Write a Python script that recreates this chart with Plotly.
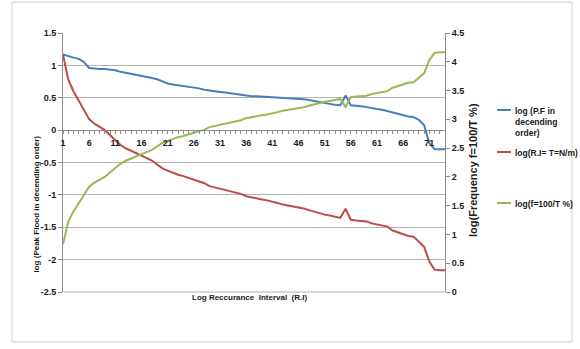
import plotly.graph_objects as go

# Recurrence interval rank (m) along the category axis
interval = list(range(1, 75))

# log of peak flood, sorted in descending order (left axis)
log_peak_flood = [
    1.17, 1.14, 1.12, 1.10, 1.05, 0.96, 0.95, 0.945, 0.945, 0.935,
    0.925, 0.90, 0.885, 0.875, 0.86, 0.84, 0.825, 0.805, 0.785, 0.755,
    0.72, 0.705, 0.695, 0.685, 0.67, 0.655, 0.645, 0.625, 0.61, 0.60,
    0.59, 0.58, 0.57, 0.56, 0.545, 0.53, 0.525, 0.525, 0.52, 0.52,
    0.515, 0.51, 0.50, 0.495, 0.49, 0.485, 0.475, 0.465, 0.45, 0.43,
    0.41, 0.40, 0.39, 0.385, 0.535, 0.385, 0.38, 0.37, 0.355, 0.335,
    0.325, 0.315, 0.295, 0.27, 0.25, 0.225, 0.21, 0.20, 0.16, 0.08,
    -0.20, -0.295, -0.295, -0.295,
]

# log of recurrence interval T = N/m (left axis)
log_recurrence = [
    1.17, 0.78, 0.60, 0.45, 0.30, 0.17, 0.10, 0.05, 0.00, -0.08,
    -0.16, -0.23, -0.28, -0.32, -0.36, -0.39, -0.43, -0.47, -0.53, -0.59,
    -0.625, -0.66, -0.69, -0.71, -0.735, -0.76, -0.785, -0.82, -0.865, -0.885,
    -0.905, -0.93, -0.955, -0.965, -0.985, -1.02, -1.04, -1.05, -1.07, -1.085,
    -1.10, -1.125, -1.15, -1.165, -1.175, -1.19, -1.21, -1.235, -1.26, -1.28,
    -1.305, -1.32, -1.335, -1.355, -1.215, -1.385, -1.395, -1.40, -1.41, -1.44,
    -1.455, -1.465, -1.49, -1.55, -1.58, -1.615, -1.635, -1.645, -1.72, -1.80,
    -2.03, -2.155, -2.165, -2.165,
]

# log of frequency f = 100/T % (right axis)
log_frequency = [
    0.83, 1.22, 1.40, 1.55, 1.70, 1.83, 1.90, 1.95, 2.00, 2.08,
    2.16, 2.23, 2.28, 2.32, 2.36, 2.39, 2.43, 2.47, 2.53, 2.59,
    2.625, 2.66, 2.69, 2.71, 2.735, 2.76, 2.785, 2.82, 2.865, 2.885,
    2.905, 2.93, 2.955, 2.965, 2.985, 3.02, 3.04, 3.05, 3.07, 3.085,
    3.10, 3.125, 3.15, 3.165, 3.175, 3.19, 3.21, 3.235, 3.26, 3.28,
    3.305, 3.32, 3.335, 3.355, 3.215, 3.385, 3.395, 3.40, 3.41, 3.44,
    3.455, 3.465, 3.49, 3.55, 3.58, 3.615, 3.635, 3.645, 3.72, 3.80,
    4.03, 4.155, 4.165, 4.165,
]

series_names = ["log (P.F in<br>decending<br>order)", "log(R.I= T=N/m)", "log(f=100/T %)"]
series_colors = ["#4a7ebb", "#be4b48", "#98b954"]

x_tick_vals = [1, 6, 11, 16, 21, 26, 31, 36, 41, 46, 51, 56, 61, 66, 71]
left_tick_vals = [1.5, 1, 0.5, 0, -0.5, -1, -1.5, -2, -2.5]
left_tick_text = ["1.5", "1", "0.5", "0", "-0.5", "-1", "-1.5", "-2", "-2.5"]
right_tick_vals = [4.5, 4, 3.5, 3, 2.5, 2, 1.5, 1, 0.5, 0]
right_tick_text = ["4.5", "4", "3.5", "3", "2.5", "2", "1.5", "1", "0.5", "0"]

W, H = 580, 349
L, R, T, B = 63, 445, 33, 292  # plot-area edges in pixels
FONT = "Liberation Sans Narrow, Liberation Sans, Arial, sans-serif"
GRID = "#b3b3b3"
AXIS = "#8c8c8c"
TXT = "#1a1a1a"


def px_x(x):
    return (x - L) / (R - L)


def px_y(y):
    return (B - y) / (B - T)


bold9 = dict(family=FONT, size=9, color=TXT, weight="bold")

fig = go.Figure()
fig.add_trace(go.Scatter(
    x=interval, y=log_peak_flood, mode="lines", name=series_names[0],
    line=dict(color=series_colors[0], width=2),
))
fig.add_trace(go.Scatter(
    x=interval, y=log_recurrence, mode="lines", name=series_names[1],
    line=dict(color=series_colors[1], width=2),
))
fig.add_trace(go.Scatter(
    x=interval, y=log_frequency, mode="lines", yaxis="y2", name=series_names[2],
    line=dict(color=series_colors[2], width=2),
))

fig.update_layout(
    width=W, height=H,
    margin=dict(l=L, r=W - R, t=T, b=H - B, autoexpand=False),
    paper_bgcolor="white", plot_bgcolor="white",
    font=dict(family=FONT, size=9, color=TXT),
    showlegend=False,
    xaxis=dict(
        range=[1, 74], anchor="free", position=0.625,
        tickvals=x_tick_vals, ticks="", showgrid=False, zeroline=False,
        showline=True, linecolor=AXIS, linewidth=1,
        tickfont=bold9, ticklabelstandoff=4,
        minor=dict(dtick=1, tick0=1, ticks="outside", ticklen=3,
                   tickcolor=AXIS, showgrid=False),
    ),
    yaxis=dict(
        range=[-2.5, 1.5], tickvals=left_tick_vals, ticktext=left_tick_text,
        ticks="outside", ticklen=4, tickcolor=AXIS,
        showline=True, linecolor=AXIS, linewidth=1,
        showgrid=True, gridcolor=GRID, gridwidth=1, zeroline=False,
        tickfont=bold9,
    ),
    yaxis2=dict(
        range=[0, 4.5], overlaying="y", side="right",
        tickvals=right_tick_vals, ticktext=right_tick_text,
        ticks="outside", ticklen=4, tickcolor=AXIS,
        showline=True, linecolor=AXIS, linewidth=1,
        showgrid=False, zeroline=False,
        tickfont=bold9,
    ),
)

# legend keys drawn at the right of the chart
legend_rows = [110, 152, 203]
for name, color, ypix in zip(series_names, series_colors, legend_rows):
    fig.add_shape(type="line", xref="paper", yref="paper",
                  x0=px_x(497), x1=px_x(511), y0=px_y(ypix), y1=px_y(ypix),
                  line=dict(color=color, width=2))
    fig.add_annotation(
        text=name, xref="paper", yref="paper", x=px_x(513), y=px_y(ypix - 6),
        xanchor="left", yanchor="top", align="left", showarrow=False,
        font=dict(family=FONT, size=8.5, color=TXT, weight="bold"),
    )

# axis titles
fig.add_annotation(
    text="Log Reccurance  Interval  (R.I)", xref="paper", yref="paper",
    x=px_x(249), y=px_y(304), showarrow=False,
    font=dict(family=FONT, size=8, color=TXT, weight="bold"),
)
fig.add_annotation(
    text="log (Peak Flood in decending order)", xref="paper", yref="paper",
    x=px_x(29), y=px_y(204), showarrow=False, textangle=-90,
    font=dict(family=FONT, size=8, color=TXT, weight="bold"),
)
fig.add_annotation(
    text="log(Frequency f=100/T %)", xref="paper", yref="paper",
    x=px_x(481), y=px_y(170), showarrow=False, textangle=-90,
    font=dict(family=FONT, size=11, color=TXT, weight="bold"),
)

# bottom edge of the plot area and the outer chart frame
fig.add_shape(type="line", xref="paper", yref="paper",
              x0=0, x1=1, y0=0, y1=0, line=dict(color=GRID, width=1))
fig.add_shape(type="rect", xref="paper", yref="paper",
              x0=px_x(12), x1=px_x(572), y0=px_y(2), y1=px_y(342),
              line=dict(color="#d0d0d0", width=1))

fig.write_html("out.html")
